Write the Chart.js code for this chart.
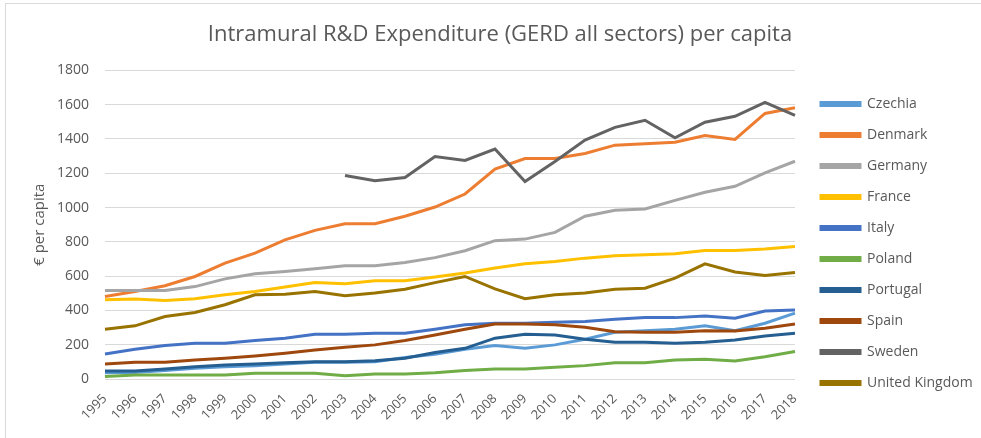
<!DOCTYPE html>
<html>
<head>
<meta charset="utf-8">
<script src="https://cdn.jsdelivr.net/npm/chart.js@4.4.1/dist/chart.umd.min.js"></script>
<style>
  html, body { margin: 0; padding: 0; background: #fff; overflow: hidden; }
  #wrap { position: relative; width: 981px; height: 438px; overflow: hidden; }
  #frame { position: absolute; left: 5px; top: 3px; width: 1000px; height: 500px; border: 1px solid #d9d9d9; box-sizing: border-box; }
  canvas { position: absolute; left: 0; top: 0; }
</style>
</head>
<body>
<div id="wrap">
  <div id="frame"></div>
  <canvas id="c" width="981" height="438"></canvas>
</div>
<script>
const years = ['1995','1996','1997','1998','1999','2000','2001','2002','2003','2004','2005','2006','2007','2008','2009','2010','2011','2012','2013','2014','2015','2016','2017','2018'];
const yTicks = [0, 200, 400, 600, 800, 1000, 1200, 1400, 1600, 1800];

const czechia  = [37,38,49,62,72,78,88,97,97,101,125,145,174,195,179,199,232,273,282,290,310,282,325,384];
const denmark  = [481,510,544,598,676,734,812,867,906,906,949,1003,1079,1225,1286,1286,1315,1364,1372,1381,1420,1397,1549,1582];
const germany  = [516,516,516,539,584,614,627,643,660,660,680,708,748,807,816,855,949,984,992,1042,1089,1124,1202,1270];
const france   = [462,466,458,468,491,510,536,563,555,573,573,595,618,647,672,686,705,719,725,730,750,750,758,773];
const italy    = [146,174,195,209,209,224,238,261,261,267,267,290,316,325,325,331,335,349,358,358,368,355,397,403];
const poland   = [14,23,23,23,23,33,33,33,19,29,29,37,49,58,58,68,78,95,95,111,115,105,130,160];
const portugal = [47,47,58,72,82,88,95,101,101,107,121,155,179,238,261,257,232,214,214,209,214,228,251,267];
const spain    = [88,97,97,111,121,134,150,169,185,199,225,257,290,321,321,316,302,276,273,273,282,280,296,321];
const sweden   = [null,null,null,null,null,null,null,null,1187,1157,1175,1298,1275,1341,1152,1269,1394,1468,1509,1407,1498,1532,1614,1538];
const uk       = [290,310,364,388,433,491,495,510,485,501,524,562,598,526,468,491,501,524,530,588,672,624,604,621];

const seriesNames = ['Czechia','Denmark','Germany','France','Italy','Poland','Portugal','Spain','Sweden','United Kingdom'];
const seriesData = [czechia, denmark, germany, france, italy, poland, portugal, spain, sweden, uk];
const seriesColors = ['#5B9BD5','#ED7D31','#A5A5A5','#FFC000','#4472C4','#70AD47','#255E91','#9E480E','#636363','#997300'];

const FONT = "'Open Sans', 'Liberation Sans', sans-serif";
const TXT = '#595959';

const legendPlace = {
  id: 'legendPlace',
  beforeLayout(chart) {
    const lg = chart.legend;
    if (lg && !lg._patched) {
      const orig = lg.fit;
      lg.fit = function () { orig.call(this); this.width = 186; };
      lg._patched = true;
    }
  },
  afterLayout(chart) {
    const lg = chart.legend;
    if (!lg) return;
    const w = lg.right - lg.left;
    lg.left = 804; lg.right = 804 + w;
    lg.top = 80;
  }
};

new Chart(document.getElementById('c'), {
  type: 'line',
  data: {
    labels: years,
    datasets: seriesNames.map((n, i) => ({
      label: n,
      data: seriesData[i],
      borderColor: seriesColors[i],
      backgroundColor: seriesColors[i],
      borderWidth: 3,
      pointRadius: 0,
      tension: 0,
      fill: false,
      spanGaps: false,
      order: 100 - i
    }))
  },
  options: {
    responsive: false,
    animation: false,
    devicePixelRatio: 1,
    layout: { padding: { left: 19, right: 0, top: 3, bottom: 0 } },
    plugins: {
      title: {
        display: true,
        text: 'Intramural R&D Expenditure (GERD all sectors) per capita',
        color: TXT,
        font: { family: FONT, size: 22, weight: 'normal' },
        padding: { top: 19, bottom: 22 }
      },
      legend: {
        position: 'right',
        align: 'start',
        labels: {
          color: TXT,
          font: { family: FONT, size: 14 },
          boxWidth: 39,
          boxHeight: 3,
          padding: 17,
          sort: (a, b) => a.datasetIndex - b.datasetIndex
        }
      },
      tooltip: { enabled: false }
    },
    scales: {
      x: {
        grid: { display: false },
        border: { display: false },
        ticks: {
          color: TXT,
          font: { family: FONT, size: 13 },
          minRotation: 45,
          maxRotation: 45,
          autoSkip: false,
          padding: 4
        },
        afterFit: (s) => { s.height = 59; }
      },
      y: {
        min: 0,
        max: 1800,
        afterBuildTicks: (s) => { s.ticks = yTicks.map(v => ({ value: v })); },
        grid: { color: '#d9d9d9', lineWidth: 1, drawTicks: false },
        border: { display: false },
        ticks: {
          color: TXT,
          font: { family: FONT, size: 14 },
          padding: 16,
          callback: (v) => String(v)
        },
        title: {
          display: true,
          text: '€ per capita',
          color: TXT,
          font: { family: FONT, size: 15 },
          padding: { top: 12, bottom: 0 }
        },
        afterFit: (s) => { s.width = 86; }
      }
    }
  },
  plugins: [legendPlace]
});
</script>
</body>
</html>
